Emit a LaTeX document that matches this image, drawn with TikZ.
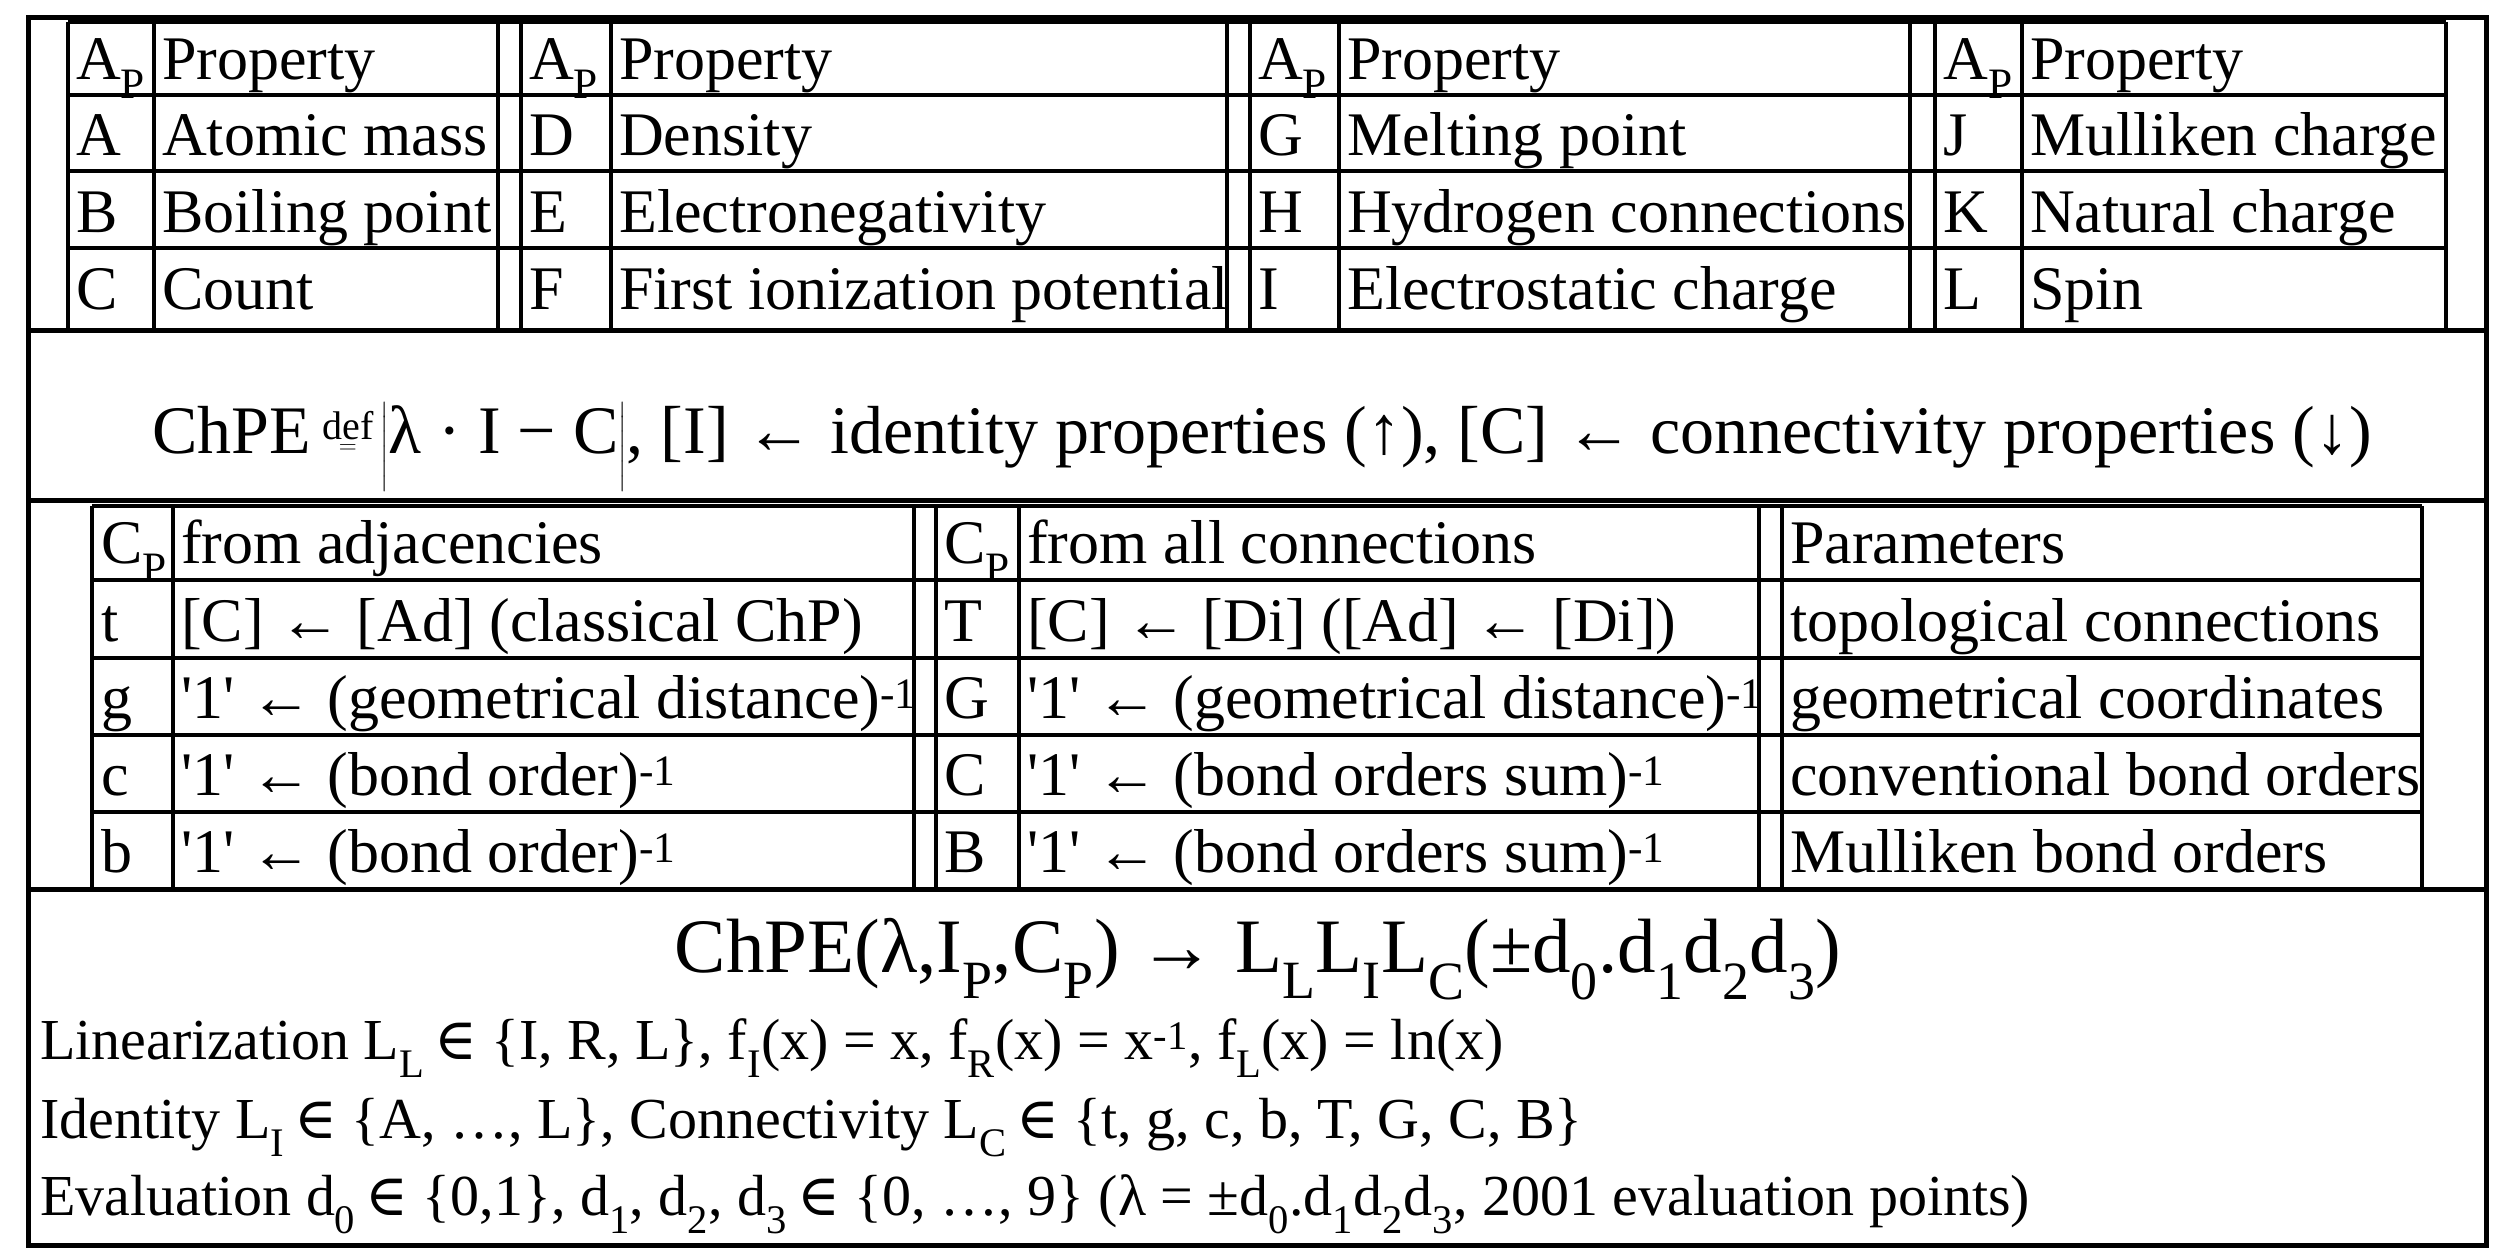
\documentclass[tikz,border=0pt]{standalone}
\usepackage{amsmath}
\usepackage{fontspec}
\setmainfont{Liberation Serif}
\newfontfamily\symf{DejaVu Serif}
\newcommand{\In}{{\symf\char"2208}}
\newcommand{\q}{\textquotesingle}
\begin{document}
\begin{tikzpicture}[x=1pt,y=-1pt,
  frame/.style={line width=5pt},
  sep/.style={line width=5pt},
  grid/.style={line width=3.5pt},
  cell/.style={anchor=base west,inner sep=0pt,font=\fontsize{62}{70}\selectfont},
  txt/.style={anchor=base west,inner sep=0pt,font=\fontsize{58}{66}\selectfont}]
\useasboundingbox (0,0) rectangle (2513,1255);
\fill[white] (0,0) rectangle (2513,1255);
% frame and section lines
\draw[frame] (28,18) rectangle (2486,1245);
\draw[sep] (28,330) -- (2486,330);
\draw[sep] (28,500) -- (2486,500);
\draw[sep] (28,889) -- (2486,889);
% top table
\draw[grid] (68,22) -- (2446,22);
\foreach \y in {95,171,248} \draw[grid] (68,\y) -- (2446,\y);
\foreach \x in {68,154,498,521,611,1227,1250,1339,1910,1935,2022,2446} \draw[grid] (\x,22) -- (\x,330);
% bottom table
\draw[grid] (92,506) -- (2422,506);
\foreach \y in {580,658,735,812} \draw[grid] (92,\y) -- (2422,\y);
\foreach \x in {92,173,914,936,1019,1759,1782,2422} \draw[grid] (\x,506) -- (\x,889);
% top table texts
\foreach \x/\t [count=\i] in {76/{A\textsubscript{P}},162/Property,529/{A\textsubscript{P}},619/Property,1258/{A\textsubscript{P}},1347/Property,1943/{A\textsubscript{P}},2030/Property}
  \node[cell] (h\i) at (\x,79) {\t};
\foreach \y/\a/\b/\c/\d/\e/\f/\g/\h [count=\i] in {
  155/A/Atomic mass/D/Density/G/Melting point/J/Mulliken charge,
  232/B/Boiling point/E/Electronegativity/H/Hydrogen connections/K/Natural charge,
  309/C/Count/F/First ionization potential/I/Electrostatic charge/L/Spin}{
  \node[cell] (ra\i) at (76,\y) {\a};
  \node[cell] (rb\i) at (162,\y) {\b};
  \node[cell] (rc\i) at (529,\y) {\c};
  \node[cell] (rd\i) at (619,\y) {\d};
  \node[cell] (re\i) at (1258,\y) {\e};
  \node[cell] (rf\i) at (1347,\y) {\f};
  \node[cell] (rg\i) at (1943,\y) {\g};
  \node[cell] (rh\i) at (2030,\y) {\h};
}
% formula
\node[anchor=base,inner sep=0pt,font=\fontsize{68}{76}\selectfont] (formula) at (1262,453)
  {ChPE\,$\overset{\text{\fontsize{40}{40}\selectfont def}}{=}\left|\text{λ · I − C}\right|$, [I] ← identity properties (↑), [C] ← connectivity properties (↓)};
% bottom table texts
\foreach \y/\a/\b/\c/\d/\e [count=\i] in {
  563/{C\textsubscript{P}}/from adjacencies/{C\textsubscript{P}}/from all connections/Parameters,
  641/t/{[C] ← [Ad] (classical ChP)}/T/{[C] ← [Di] ([Ad] ← [Di])}/topological connections,
  718/g/{\q1\q{} ← (geometrical distance)\textsuperscript{-1}}/G/{\q1\q{} ← (geometrical distance)\textsuperscript{-1}}/geometrical coordinates,
  795/c/{\q1\q{} ← (bond order)\textsuperscript{-1}}/C/{\q1\q{} ← (bond orders sum)\textsuperscript{-1}}/conventional bond orders,
  872/b/{\q1\q{} ← (bond order)\textsuperscript{-1}}/B/{\q1\q{} ← (bond orders sum)\textsuperscript{-1}}/Mulliken bond orders}{
  \node[cell] (ca\i) at (101,\y) {\a};
  \node[cell] (cb\i) at (181,\y) {\b};
  \node[cell] (cc\i) at (944,\y) {\c};
  \node[cell] (cd\i) at (1027,\y) {\d};
  \node[cell] (ce\i) at (1790,\y) {\e};
}
% bottom section
\node[anchor=base,inner sep=0pt,font=\fontsize{77}{85}\selectfont] (chpe) at (1258,972)
  {ChPE(λ,I\textsubscript{P},C\textsubscript{P}) → L\textsubscript{L}L\textsubscript{I}L\textsubscript{C}(±d\textsubscript{0}.d\textsubscript{1}d\textsubscript{2}d\textsubscript{3})};
\node[txt] (lin) at (40,1059) {Linearization L\textsubscript{L}\,\In\ \{I, R, L\}, f\textsubscript{I}(x) = x, f\textsubscript{R}(x) = x\textsuperscript{-1}, f\textsubscript{L}(x) = ln(x)};
\node[txt] (ide) at (40,1138) {Identity L\textsubscript{I}\,\In\ \{A, …, L\}, Connectivity L\textsubscript{C}\,\In\ \{t, g, c, b, T, G, C, B\}};
\node[txt] (eva) at (40,1215) {Evaluation d\textsubscript{0}\,\In\ \{0,1\}, d\textsubscript{1}, d\textsubscript{2}, d\textsubscript{3}\,\In\ \{0, …, 9\} (λ = ±d\textsubscript{0}.d\textsubscript{1}d\textsubscript{2}d\textsubscript{3}, 2001 evaluation points)};
\end{tikzpicture}
\end{document}
